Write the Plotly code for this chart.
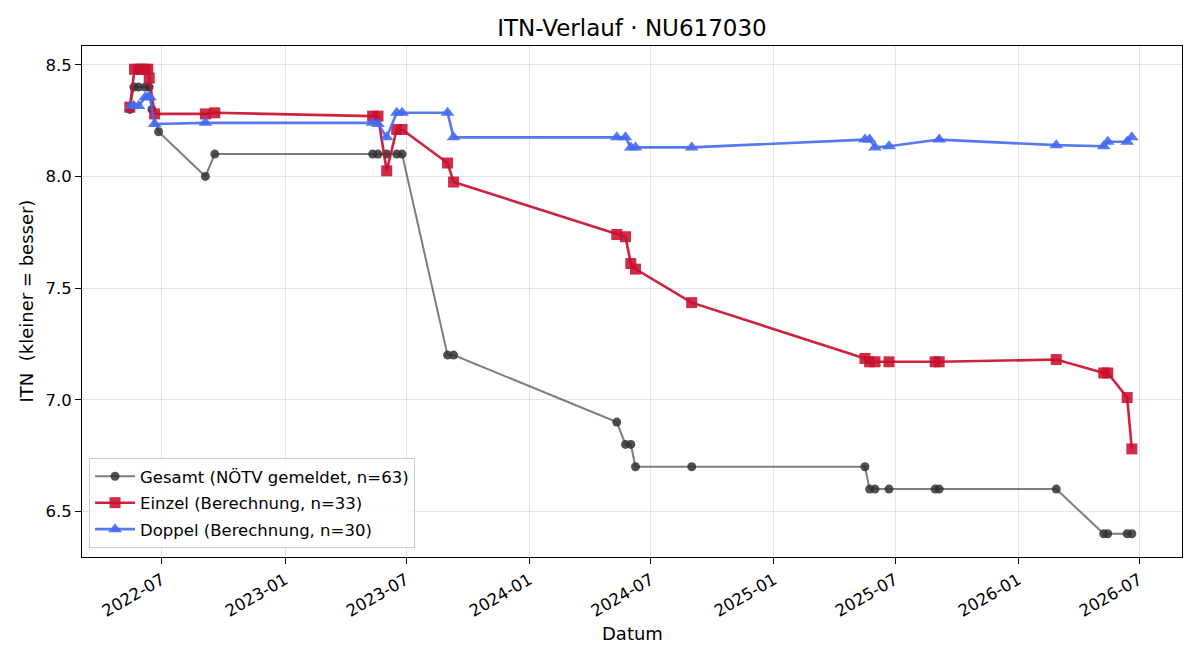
import plotly.graph_objects as go

# ---- data ----
gesamt_dates = [
    "2022-05-14", "2022-05-20", "2022-05-27", "2022-06-06", "2022-06-12", "2022-06-16",
    "2022-06-26", "2022-09-04", "2022-09-18", "2023-05-12", "2023-05-20", "2023-06-02",
    "2023-06-17", "2023-06-25", "2023-09-01", "2023-09-10", "2024-05-11", "2024-05-24",
    "2024-06-01", "2024-06-08", "2024-08-31", "2025-05-17", "2025-05-24", "2025-06-01",
    "2025-06-22", "2025-08-30", "2025-09-05", "2026-02-27", "2026-05-09", "2026-05-15",
    "2026-06-13", "2026-06-20",
]
gesamt_itn = [
    8.3, 8.4, 8.4, 8.4, 8.4, 8.3,
    8.2, 8.0, 8.1, 8.1, 8.1, 8.1,
    8.1, 8.1, 7.2, 7.2, 6.9, 6.8,
    6.8, 6.7, 6.7, 6.7, 6.6, 6.6,
    6.6, 6.6, 6.6, 6.6, 6.4, 6.4,
    6.4, 6.4,
]

einzel_dates = [
    "2022-05-14", "2022-05-21", "2022-05-27", "2022-05-31", "2022-06-06", "2022-06-10",
    "2022-06-12", "2022-06-20", "2022-09-04", "2022-09-18", "2023-05-12", "2023-05-20",
    "2023-06-02", "2023-06-17", "2023-06-25", "2023-09-01", "2023-09-10", "2024-05-11",
    "2024-05-24", "2024-06-01", "2024-06-08", "2024-08-31", "2025-05-17", "2025-05-24",
    "2025-06-01", "2025-06-22", "2025-08-30", "2025-09-05", "2026-02-27", "2026-05-09",
    "2026-05-15", "2026-06-13", "2026-06-20",
]
einzel_itn = [
    8.31, 8.48, 8.48, 8.48, 8.48, 8.48,
    8.44, 8.28, 8.28, 8.285, 8.27, 8.27,
    8.025, 8.21, 8.21, 8.06, 7.975, 7.74,
    7.73, 7.61, 7.585, 7.435, 7.185, 7.17,
    7.17, 7.17, 7.17, 7.17, 7.18, 7.12,
    7.12, 7.01, 6.78,
]

doppel_dates = [
    "2022-05-16", "2022-05-20", "2022-05-27", "2022-06-06", "2022-06-10", "2022-06-13",
    "2022-06-20", "2022-09-04", "2023-05-12", "2023-05-20", "2023-06-02", "2023-06-17",
    "2023-06-25", "2023-09-01", "2023-09-10", "2024-05-11", "2024-05-24", "2024-06-01",
    "2024-06-08", "2024-08-31", "2025-05-17", "2025-05-24", "2025-06-01", "2025-06-22",
    "2025-09-05", "2026-02-27", "2026-05-09", "2026-05-15", "2026-06-13", "2026-06-20",
]
doppel_itn = [
    8.315, 8.315, 8.315, 8.355, 8.355, 8.355,
    8.235, 8.24, 8.24, 8.235, 8.175, 8.285,
    8.285, 8.285, 8.175, 8.175, 8.175, 8.13,
    8.13, 8.13, 8.165, 8.165, 8.13, 8.135,
    8.165, 8.14, 8.135, 8.155, 8.155, 8.175,
]

y_ticks = [6.5, 7.0, 7.5, 8.0, 8.5]
x_ticks = ["2022-07-01", "2023-01-01", "2023-07-01", "2024-01-01", "2024-07-01",
           "2025-01-01", "2025-07-01", "2026-01-01", "2026-07-01"]

FONT = "DejaVu Sans"
TICK_SIZE = 16.5
LABEL_SIZE = 18
TITLE_SIZE = 23

fig = go.Figure()
fig.add_trace(go.Scatter(
    x=gesamt_dates, y=gesamt_itn, mode="lines+markers",
    name="Gesamt (NÖTV gemeldet, n=63)", legendgroup="g",
    line=dict(color="rgba(70,70,70,0.7)", width=2),
    marker=dict(symbol="circle", size=9, color="rgba(50,50,50,0.85)", line=dict(width=0)),
))
fig.add_trace(go.Scatter(
    x=einzel_dates, y=einzel_itn, mode="lines+markers",
    name="Einzel (Berechnung, n=33)", legendgroup="e",
    line=dict(color="rgba(200,16,46,0.92)", width=2.6),
    marker=dict(symbol="square", size=11, color="rgba(200,16,46,0.88)", line=dict(width=0)),
))
fig.add_trace(go.Scatter(
    x=doppel_dates, y=doppel_itn, mode="lines+markers",
    name="Doppel (Berechnung, n=30)", legendgroup="d",
    line=dict(color="rgba(70,105,240,0.9)", width=2.6),
    marker=dict(symbol="triangle-up", size=12, color="rgba(70,105,240,0.9)", line=dict(width=0)),
))

axis_common = dict(
    showline=True, mirror=True, linecolor="black", linewidth=1,
    ticks="outside", ticklen=6, tickcolor="black", tickwidth=1,
    showgrid=True, gridcolor="rgba(0,0,0,0.10)", gridwidth=1,
    zeroline=False, tickfont=dict(family=FONT, size=TICK_SIZE, color="black"),
)

fig.update_layout(
    width=1200, height=660,
    margin=dict(l=82, r=18, t=46, b=103, autoexpand=False),
    paper_bgcolor="white", plot_bgcolor="white",
    font=dict(family=FONT, size=TICK_SIZE, color="black"),
    title=dict(text="ITN-Verlauf · NU617030", x=0.5, xref="paper", xanchor="center",
               y=1 - 28 / 660, yref="container", yanchor="middle",
               font=dict(family=FONT, size=TITLE_SIZE, color="black")),
    xaxis=dict(axis_common, type="date", range=["2022-03-03 12:00", "2026-09-03"],
               tickvals=x_ticks, tickformat="%Y-%m", tickangle=-30),
    yaxis=dict(axis_common, range=[6.296, 8.584], tickvals=y_ticks, tickformat=".1f"),
    legend=dict(x=0.0064, y=0.0176, xanchor="left", yanchor="bottom",
                bgcolor="rgba(255,255,255,0.85)", bordercolor="#cccccc", borderwidth=1,
                font=dict(family=FONT, size=TICK_SIZE, color="black"),
                traceorder="grouped", tracegroupgap=2, itemwidth=40),
    showlegend=True,
    annotations=[
        dict(text="Datum", xref="paper", yref="paper", x=0.5, y=-(633 - 557) / 511,
             xanchor="center", yanchor="middle", showarrow=False,
             font=dict(family=FONT, size=LABEL_SIZE, color="black")),
        dict(text="ITN  (kleiner = besser)", xref="paper", yref="paper",
             x=-(82 - 26) / 1100, y=0.5, xanchor="center", yanchor="middle",
             textangle=-90, showarrow=False,
             font=dict(family=FONT, size=LABEL_SIZE, color="black")),
    ],
)

fig.write_html("out.html")
